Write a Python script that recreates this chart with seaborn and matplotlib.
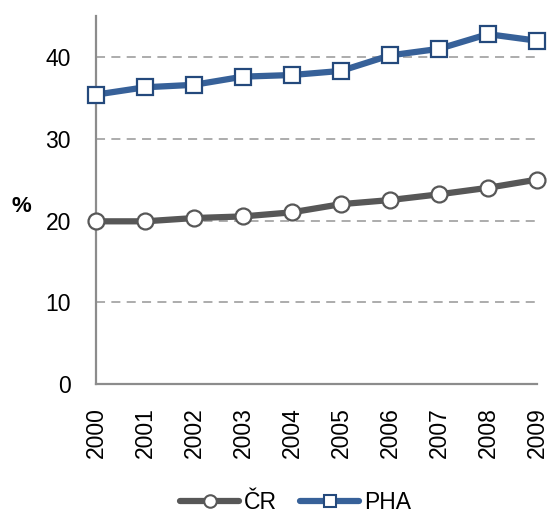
import pandas as pd
import matplotlib.pyplot as plt
import seaborn as sns
from matplotlib.lines import Line2D

# data
roky = [2000, 2001, 2002, 2003, 2004, 2005, 2006, 2007, 2008, 2009]
cr = [19.9, 19.9, 20.3, 20.5, 21.0, 22.0, 22.5, 23.2, 24.0, 25.0]
pha = [35.4, 36.3, 36.6, 37.6, 37.8, 38.3, 40.2, 41.0, 42.8, 42.0]

df = pd.DataFrame({"rok": roky * 2,
                   "hodnota": cr + pha,
                   "serie": ["ČR"] * len(roky) + ["PHA"] * len(roky)})

sns.set_theme(style="white")
plt.rcParams["font.family"] = ["Liberation Sans", "DejaVu Sans"]
plt.rcParams["text.color"] = "black"

barvy = {"ČR": "#575757", "PHA": "#376199"}
okraje = {"ČR": "#575757", "PHA": "#24497c"}
znacky = {"ČR": "o", "PHA": "s"}

fig = plt.figure(figsize=(5.47, 5.13), dpi=100)
ax = fig.add_axes([0.1755, 0.2515, 0.806, 0.717])

# grid lines
for y in [10, 20, 30, 40]:
    ax.axhline(y, color="#a6a6a6", lw=1.3, ls=(0, (5, 3.5)), zorder=0)

sns.lineplot(data=df, x="rok", y="hodnota", hue="serie", palette=barvy,
             lw=4.5, legend=False, ax=ax, zorder=3)
for s in ["ČR", "PHA"]:
    d = df[df["serie"] == s]
    ax.plot(d["rok"], d["hodnota"], ls="none", marker=znacky[s],
            ms=11.5, mfc="white", mec=okraje[s],
            mew=1.6, zorder=4, clip_on=False)

ax.set_xlim(2000, 2009)
ax.set_ylim(0, 45)
ax.set_yticks([0, 10, 20, 30, 40])
ax.set_xticks(roky)
ax.set_xticklabels([str(r) for r in roky], rotation=90)
ax.tick_params(axis="x", length=0, pad=17, labelsize=16.5, labelcolor="black")
ax.tick_params(axis="y", length=6, width=1.3, color="#8c8c8c", direction="out",
               labelsize=16.5, pad=12, labelcolor="black")
ax.set_xlabel("")
ax.set_ylabel("%", rotation=0, fontsize=16, fontweight="bold", color="black")
ax.yaxis.set_label_coords(-0.17, 0.455)

for side in ["top", "right"]:
    ax.spines[side].set_visible(False)
for side in ["left", "bottom"]:
    ax.spines[side].set_color("#8c8c8c")
    ax.spines[side].set_linewidth(1.6)

# legend
h = [Line2D([], [], color=barvy[s], lw=4.5, marker=znacky[s], ms=9,
            mfc="white", mec=okraje[s], mew=1.5) for s in ["ČR", "PHA"]]
fig.legend(h, ["ČR", "PHA"], loc="center", bbox_to_anchor=(0.54, 0.02),
           ncol=2, frameon=False, fontsize=16.5, handlelength=2.6,
           columnspacing=1.0, handletextpad=0.2)

fig.savefig("out.png", dpi=100)
